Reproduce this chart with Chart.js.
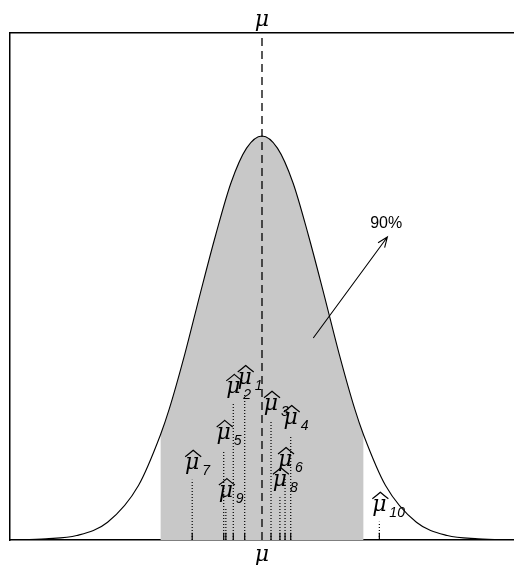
<!DOCTYPE html>
<html>
<head>
<meta charset="utf-8">
<script src="https://cdn.jsdelivr.net/npm/chart.js@4/dist/chart.umd.min.js"></script>
<style>
  html, body { margin: 0; padding: 0; background: #fff; }
  #wrap { width: 514px; height: 565px; position: relative; }
</style>
</head>
<body>
<div id="wrap"><canvas id="chart"></canvas></div>
<script>
// courbe normale (x en sigma autour de mu, hauteur relative au pic)
const curveX = [-4.08, -3.5, -3, -2.5, -2, -1.645, -1.5, -1.25, -1, -0.75, -0.5, -0.25, 0,
                0.25, 0.5, 0.75, 1, 1.25, 1.5, 1.645, 2, 2.5, 3, 3.5, 4.08];
const curveY = [0.0003, 0.003, 0.011, 0.044, 0.135, 0.26, 0.325, 0.46, 0.61, 0.755, 0.885, 0.97, 1,
                0.97, 0.885, 0.755, 0.61, 0.46, 0.325, 0.26, 0.135, 0.044, 0.011, 0.003, 0.0003];

// zone grise de 90 %
const shadeFrom = -1.645;
const shadeTo = 1.645;

// vraie moyenne
const muX = 0;

// estimations mu chapeau 1..10 : position et hauteur du pointillé
const estNames = ["1", "2", "3", "4", "5", "6", "7", "8", "9", "10"];
const estX =   [-0.28, -0.465, 0.146, 0.465, -0.62, 0.373, -1.13, 0.29, -0.585, 1.90];
const estTop = [0.359, 0.337, 0.295, 0.26, 0.223, 0.156, 0.149, 0.106, 0.079, 0.045];
const rugHeight = 0.018;

// flèche et étiquette 90%
const arrowFrom = [0.83, 0.50];
const arrowTo = [2.03, 0.75];
const pctText = "90%";
const pctAt = [2.01, 0.782];

const xMin = -4.08, xMax = 4.08, yMax = 1.255;

const curvePts = curveX.map((x, i) => ({ x: x, y: curveY[i] }));
const shadePts = curvePts.filter(p => p.x >= shadeFrom && p.x <= shadeTo);

const datasets = [];

// courbe
datasets.push({
  data: curvePts, borderColor: "#000", borderWidth: 1.1,
  pointRadius: 0, cubicInterpolationMode: "monotone", fill: false
});

// ligne mu en tirets
datasets.push({
  data: [{ x: muX, y: 0 }, { x: muX, y: yMax }],
  borderColor: "#000", borderWidth: 1.3, borderDash: [8, 5],
  pointRadius: 0, fill: false
});

// pointillés + petits traits pleins des estimations
estX.forEach((ex, i) => {
  datasets.push({
    data: [{ x: ex, y: 0 }, { x: ex, y: estTop[i] }],
    borderColor: "#000", borderWidth: 1.2, borderDash: [1, 2],
    pointRadius: 0, fill: false
  });
  datasets.push({
    data: [{ x: ex, y: 0 }, { x: ex, y: rugHeight }],
    borderColor: "#000", borderWidth: 1.2,
    pointRadius: 0, fill: false
  });
});

// zone grise (dessinée en premier)
datasets.push({
  data: shadePts, borderWidth: 0, borderColor: "rgba(0,0,0,0)",
  backgroundColor: "rgb(200,200,200)", pointRadius: 0,
  cubicInterpolationMode: "monotone", fill: "origin"
});

function drawMuHat(ctx, cx, base, sub) {
  ctx.font = 'italic 22px "DejaVu Serif"';
  ctx.textAlign = "center";
  ctx.textBaseline = "alphabetic";
  ctx.fillText("\u03bc", cx, base);
  ctx.beginPath();
  ctx.moveTo(cx - 7, base - 12);
  ctx.quadraticCurveTo(cx - 3, base - 15, cx + 1, base - 18.5);
  ctx.quadraticCurveTo(cx + 5, base - 15, cx + 9, base - 12);
  ctx.lineWidth = 1.2;
  ctx.stroke();
  ctx.font = 'italic 14px "Liberation Sans"';
  ctx.textAlign = "left";
  ctx.fillText(sub, cx + 10, base + 6);
}

const annotations = {
  id: "annotations",
  afterDatasetsDraw(chart) {
    const { ctx, chartArea, scales: { x, y } } = chart;
    ctx.save();
    ctx.fillStyle = "#000";
    ctx.strokeStyle = "#000";

    estX.forEach((ex, i) => {
      drawMuHat(ctx, x.getPixelForValue(ex), y.getPixelForValue(estTop[i]) - 11, estNames[i]);
    });

    // mu en haut et en bas
    const mx = x.getPixelForValue(muX);
    ctx.font = 'italic 22px "DejaVu Serif"';
    ctx.textAlign = "center";
    ctx.textBaseline = "alphabetic";
    ctx.fillText("\u03bc", mx, chartArea.top - 7);
    ctx.fillText("\u03bc", mx, chartArea.bottom + 21);

    // flèche
    const x0 = x.getPixelForValue(arrowFrom[0]), y0 = y.getPixelForValue(arrowFrom[1]);
    const x1 = x.getPixelForValue(arrowTo[0]), y1 = y.getPixelForValue(arrowTo[1]);
    const ang = Math.atan2(y1 - y0, x1 - x0);
    ctx.lineWidth = 1.1;
    ctx.beginPath();
    ctx.moveTo(x0, y0);
    ctx.lineTo(x1, y1);
    ctx.moveTo(x1 - 11 * Math.cos(ang - 0.38), y1 - 11 * Math.sin(ang - 0.38));
    ctx.lineTo(x1, y1);
    ctx.lineTo(x1 - 11 * Math.cos(ang + 0.38), y1 - 11 * Math.sin(ang + 0.38));
    ctx.stroke();

    ctx.font = '16px "Liberation Sans"';
    ctx.textBaseline = "middle";
    ctx.fillText(pctText, x.getPixelForValue(pctAt[0]), y.getPixelForValue(pctAt[1]));
    ctx.restore();
  }
};

const hiddenAxis = (pos) => ({
  type: "linear", position: pos, min: xMin, max: xMax,
  ticks: { display: false }, grid: { display: false },
  border: { display: true, color: "#000", width: 1.5 },
  afterFit(scale) { scale.height = 0; }
});

new Chart(document.getElementById("chart").getContext("2d"), {
  type: "line",
  data: { datasets: datasets },
  options: {
    responsive: true,
    maintainAspectRatio: false,
    animation: false,
    layout: { padding: { left: 10, top: 33, right: 0, bottom: 25 } },
    plugins: { legend: { display: false }, tooltip: { enabled: false } },
    scales: {
      x: hiddenAxis("bottom"),
      xTop: hiddenAxis("top"),
      y: {
        type: "linear", min: 0, max: yMax,
        ticks: { display: false }, grid: { display: false },
        border: { display: true, color: "#000", width: 1.5 },
        afterFit(scale) { scale.width = 0; }
      }
    }
  },
  plugins: [annotations]
});
</script>
</body>
</html>
